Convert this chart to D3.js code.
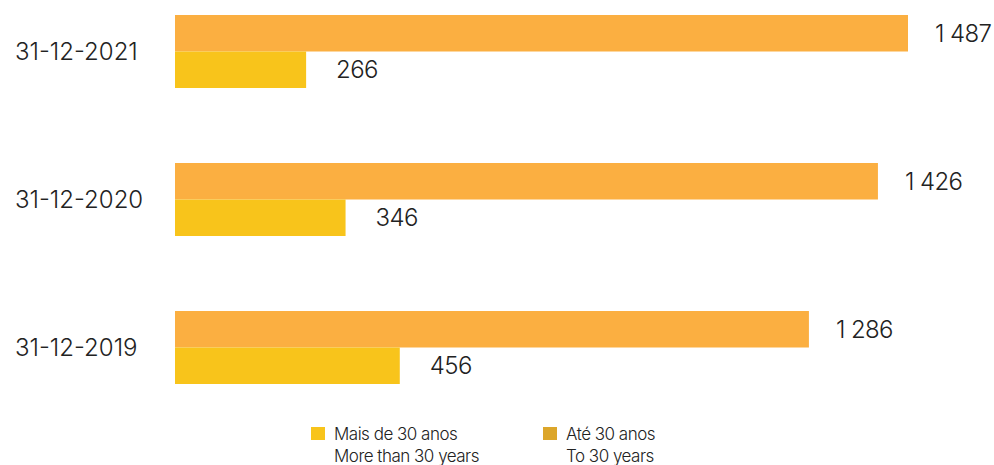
<!DOCTYPE html>
<html><head><meta charset="utf-8">
<script src="https://cdn.jsdelivr.net/npm/d3@7"></script>
<style>
html,body{margin:0;padding:0;background:#fff;}
svg{display:block;font-family:Inter,"Noto Sans",sans-serif;}
</style></head>
<body><svg id="chart" width="994" height="465"></svg>
<script>
const categories = ["31-12-2021", "31-12-2020", "31-12-2019"];
const seriesNames = ["Até 30 anos", "Mais de 30 anos"];
const ate30 = [1487, 1426, 1286];
const mais30 = [266, 346, 456];
const legendLabels = [
  ["Mais de 30 anos", "More than 30 years"],
  ["Até 30 anos", "To 30 years"]
];

const barColors = {"Até 30 anos": "#FBAF41", "Mais de 30 anos": "#F8C41B"};
const legendColors = {"Até 30 anos": "#DCA62A", "Mais de 30 anos": "#F8C41B"};
const labelOffset = {"Até 30 anos": 27, "Mais de 30 anos": 30};

const svg = d3.select("#chart");
const x = d3.scaleLinear().domain([0, 1487]).range([175, 908]);
const y = d3.scaleBand().domain(categories).range([15, 384]).paddingInner(75/148);
const ySub = d3.scaleBand().domain(seriesNames).range([0, y.bandwidth()]);

const rows = categories.map((c, i) => ({cat: c, values: [
  {name: "Até 30 anos", v: ate30[i]},
  {name: "Mais de 30 anos", v: mais30[i]}
]}));

const fmt = v => d3.format(",")(v).replace(/,/g, " ");

const g = svg.selectAll("g.row").data(rows).join("g")
  .attr("class", "row")
  .attr("transform", d => `translate(0,${y(d.cat)})`);

g.selectAll("rect").data(d => d.values).join("rect")
  .attr("x", x(0))
  .attr("y", d => ySub(d.name))
  .attr("width", d => x(d.v) - x(0))
  .attr("height", ySub.bandwidth())
  .attr("fill", d => barColors[d.name]);

g.selectAll("text.val").data(d => d.values).join("text")
  .attr("class", "val")
  .attr("x", d => x(d.v) + labelOffset[d.name])
  .attr("y", d => ySub(d.name) + ySub.bandwidth() / 2)
  .attr("dy", "0.36em")
  .attr("font-size", 24)
  .attr("font-weight", 300)
  .attr("letter-spacing", -0.6)
  .attr("fill", "#222")
  .text(d => fmt(d.v));

g.append("text")
  .attr("x", 15)
  .attr("y", y.bandwidth() / 2)
  .attr("dy", "0.36em")
  .attr("font-size", 24)
  .attr("font-weight", 300)
  .attr("fill", "#222")
  .text(d => d.cat);

const legendKeys = ["Mais de 30 anos", "Até 30 anos"];
const lx = d3.scaleOrdinal().domain(legendKeys).range([311, 543]);
const lg = svg.selectAll("g.leg").data(legendKeys).join("g")
  .attr("class", "leg")
  .attr("transform", d => `translate(${lx(d)},427)`);
lg.append("rect").attr("width", 14).attr("height", 13)
  .attr("fill", d => legendColors[d]);
lg.each(function(d, i) {
  const t = d3.select(this).append("text")
    .attr("x", 23).attr("y", 13)
    .attr("font-size", 17).attr("font-weight", 300)
    .attr("letter-spacing", -0.5)
    .attr("fill", "#222");
  legendLabels[i].forEach((line, j) => {
    t.append("tspan").attr("x", 23).attr("dy", j === 0 ? 0 : 22).text(line);
  });
});
</script></body></html>
